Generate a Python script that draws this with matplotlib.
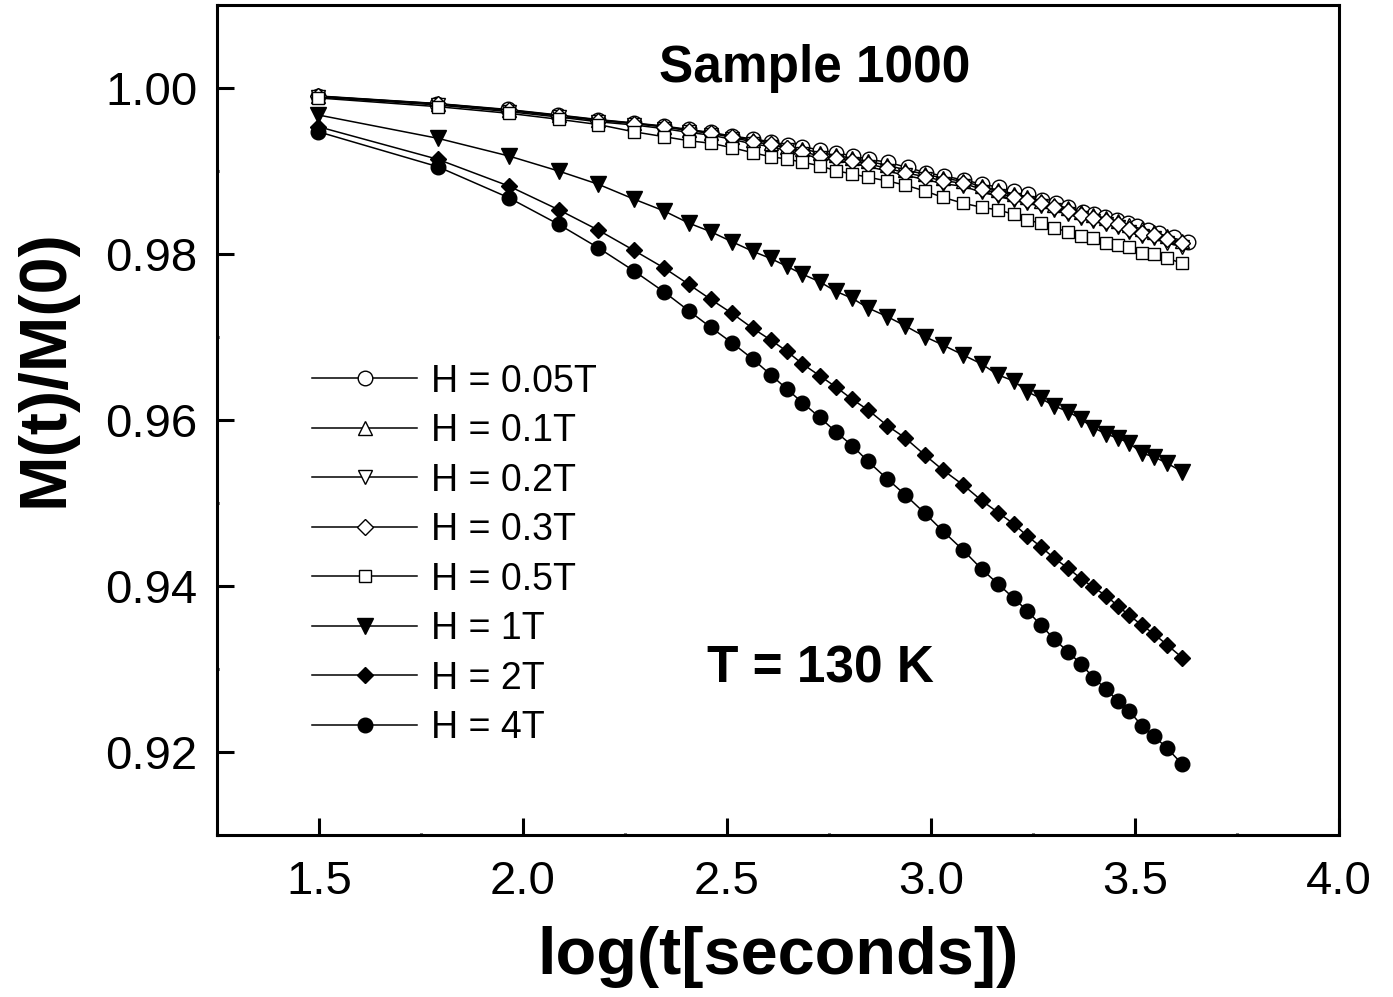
import matplotlib
matplotlib.use("Agg")
import matplotlib.pyplot as plt
from matplotlib.ticker import MultipleLocator, FormatStrFormatter

plt.rcParams['font.family'] = ['Liberation Sans', 'DejaVu Sans']

# log10 of time, shared by most series
x_common = [1.498, 1.791, 1.965, 2.087, 2.184, 2.271, 2.346, 2.406, 2.460, 2.512,
            2.563, 2.607, 2.646, 2.685, 2.727, 2.766, 2.807, 2.846, 2.893, 2.936,
            2.985, 3.029, 3.079, 3.124, 3.165, 3.203, 3.236, 3.269, 3.302, 3.337,
            3.368, 3.398, 3.430, 3.458, 3.485, 3.517, 3.546, 3.579, 3.616]

# the 0.05T run has slightly different times
x_005 = [1.498, 1.789, 1.963, 2.086, 2.184, 2.272, 2.345, 2.406, 2.460, 2.512,
         2.563, 2.607, 2.649, 2.683, 2.727, 2.767, 2.808, 2.847, 2.894, 2.943,
         2.987, 3.031, 3.080, 3.124, 3.166, 3.203, 3.237, 3.271, 3.306, 3.337,
         3.372, 3.399, 3.426, 3.455, 3.482, 3.506, 3.531, 3.560, 3.595, 3.629]

m_005 = [0.99904, 0.99813, 0.99741, 0.99675, 0.99620, 0.99578, 0.99542, 0.99500, 0.99464, 0.99422,
         0.99386, 0.99353, 0.99313, 0.99295, 0.99253, 0.99220, 0.99181, 0.99141, 0.99105, 0.99042,
         0.98980, 0.98940, 0.98892, 0.98843, 0.98804, 0.98763, 0.98723, 0.98651, 0.98611, 0.98570,
         0.98510, 0.98478, 0.98442, 0.98410, 0.98370, 0.98337, 0.98289, 0.98249, 0.98208, 0.98148]

m_01 = [0.99900, 0.99810, 0.99735, 0.99670, 0.99615, 0.99576, 0.99535, 0.99494, 0.99460, 0.99415,
        0.99370, 0.99340, 0.99295, 0.99265, 0.99220, 0.99190, 0.99152, 0.99115, 0.99070, 0.99015,
        0.98960, 0.98915, 0.98875, 0.98815, 0.98770, 0.98725, 0.98690, 0.98635, 0.98595, 0.98550,
        0.98500, 0.98465, 0.98430, 0.98395, 0.98345, 0.98300, 0.98265, 0.98215, 0.98160]

m_02 = [0.99890, 0.99795, 0.99715, 0.99650, 0.99593, 0.99555, 0.99510, 0.99465, 0.99432, 0.99382,
        0.99325, 0.99295, 0.99248, 0.99205, 0.99152, 0.99125, 0.99090, 0.99052, 0.99000, 0.98948,
        0.98898, 0.98848, 0.98815, 0.98745, 0.98695, 0.98645, 0.98615, 0.98575, 0.98532, 0.98482,
        0.98432, 0.98392, 0.98362, 0.98325, 0.98262, 0.98218, 0.98190, 0.98138, 0.98085]

m_03 = [0.99898, 0.99807, 0.99729, 0.99663, 0.99608, 0.99572, 0.99530, 0.99486, 0.99454, 0.99406,
        0.99349, 0.99322, 0.99273, 0.99233, 0.99181, 0.99153, 0.99120, 0.99084, 0.99033, 0.98980,
        0.98931, 0.98883, 0.98852, 0.98780, 0.98731, 0.98683, 0.98651, 0.98611, 0.98570, 0.98518,
        0.98470, 0.98430, 0.98398, 0.98361, 0.98301, 0.98257, 0.98229, 0.98177, 0.98129]

m_05 = [0.99880, 0.99775, 0.99695, 0.99623, 0.99560, 0.99473, 0.99413, 0.99365, 0.99334, 0.99281,
        0.99220, 0.99172, 0.99145, 0.99105, 0.99064, 0.99004, 0.98964, 0.98924, 0.98880, 0.98831,
        0.98759, 0.98683, 0.98611, 0.98563, 0.98530, 0.98478, 0.98410, 0.98370, 0.98310, 0.98269,
        0.98220, 0.98196, 0.98129, 0.98108, 0.98088, 0.98008, 0.97996, 0.97948, 0.97888]

m_1 = [0.99675, 0.99394, 0.99181, 0.99000, 0.98841, 0.98663, 0.98518, 0.98373, 0.98269, 0.98148,
       0.98033, 0.97946, 0.97853, 0.97757, 0.97666, 0.97552, 0.97466, 0.97349, 0.97245, 0.97136,
       0.97004, 0.96904, 0.96783, 0.96675, 0.96542, 0.96470, 0.96341, 0.96261, 0.96169, 0.96100,
       0.96008, 0.95907, 0.95831, 0.95780, 0.95727, 0.95599, 0.95558, 0.95478, 0.95377]

m_2 = [0.99534, 0.99141, 0.98819, 0.98534, 0.98289, 0.98046, 0.97831, 0.97635, 0.97454, 0.97286,
       0.97105, 0.96964, 0.96831, 0.96675, 0.96534, 0.96401, 0.96249, 0.96120, 0.95931, 0.95787,
       0.95578, 0.95398, 0.95217, 0.95030, 0.94883, 0.94747, 0.94602, 0.94474, 0.94335, 0.94211,
       0.94088, 0.93984, 0.93880, 0.93759, 0.93651, 0.93527, 0.93425, 0.93289, 0.93136]

m_4 = [0.99473, 0.99052, 0.98678, 0.98358, 0.98076, 0.97799, 0.97542, 0.97317, 0.97117, 0.96931,
       0.96735, 0.96546, 0.96377, 0.96208, 0.96033, 0.95861, 0.95690, 0.95500, 0.95289, 0.95102,
       0.94876, 0.94663, 0.94431, 0.94205, 0.94022, 0.93852, 0.93702, 0.93530, 0.93361, 0.93201,
       0.93060, 0.92895, 0.92755, 0.92614, 0.92498, 0.92317, 0.92193, 0.92045, 0.91852]

labels = ["H = 0.05T", "H = 0.1T", "H = 0.2T", "H = 0.3T",
          "H = 0.5T", "H = 1T", "H = 2T", "H = 4T"]

fig = plt.figure(figsize=(13.93, 9.97), dpi=100)
ax = fig.add_axes([0.1558, 0.1625, 0.8054, 0.8325])

# (x, y, marker, size, filled)
series = [
    (x_005, m_005, 'o', 10.5, False),
    (x_common, m_01, '^', 10, False),
    (x_common, m_02, 'v', 10, False),
    (x_common, m_03, 'D', 8, False),
    (x_common, m_05, 's', 8, False),
    (x_common, m_1, 'v', 11, True),
    (x_common, m_2, 'D', 8, True),
    (x_common, m_4, 'o', 10.5, True),
]

for (xs, ys, mk, ms, filled), lab in zip(series, labels):
    ax.plot(xs, ys, color='black', lw=1.1, marker=mk, markersize=ms,
            markerfacecolor='black' if filled else 'white',
            markeredgecolor='black', markeredgewidth=1.0, label=lab)

ax.set_xlim(1.25, 4.0)
ax.set_ylim(0.91, 1.01)
ax.xaxis.set_major_locator(MultipleLocator(0.5))
ax.xaxis.set_minor_locator(MultipleLocator(0.25))
ax.yaxis.set_major_locator(MultipleLocator(0.02))
ax.yaxis.set_minor_locator(MultipleLocator(0.01))
ax.xaxis.set_major_formatter(FormatStrFormatter('%.1f'))
ax.yaxis.set_major_formatter(FormatStrFormatter('%.2f'))

ax.tick_params(which='major', direction='in', length=12, width=2.2,
               labelsize=34, pad=18)
ax.tick_params(which='minor', direction='in', length=1.5, width=2.2)
ax.tick_params(axis='y', which='major', pad=14)
for sp in ax.spines.values():
    sp.set_linewidth(2.2)

ax.set_xlabel('log(t[seconds])', fontsize=48, fontweight='bold', labelpad=16)
ax.set_ylabel('M(t)/M(0)', fontsize=48, fontweight='bold')
ax.yaxis.set_label_coords(-0.125, 0.563)

ax.text(0.533, 0.923, 'Sample 1000', transform=ax.transAxes, fontsize=37,
        fontweight='bold', ha='center', va='center')
ax.text(0.538, 0.2, 'T = 130 K', transform=ax.transAxes, fontsize=37,
        fontweight='bold', ha='center', va='center')

ax.legend(loc='upper left', bbox_to_anchor=(0.085, 0.568), frameon=False,
          fontsize=27, handlelength=2.8, handletextpad=0.35, labelspacing=0.36,
          borderpad=0, borderaxespad=0)

fig.savefig('out.png', dpi=100)
